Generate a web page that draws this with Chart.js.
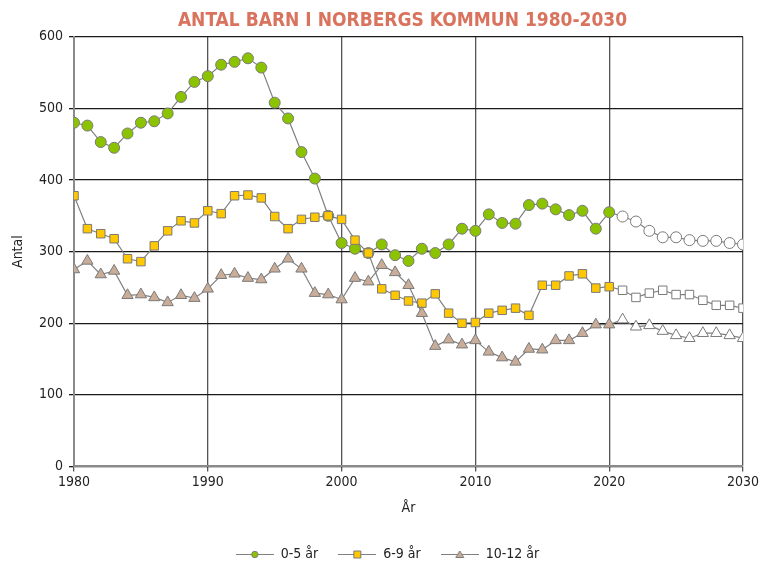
<!DOCTYPE html>
<html>
<head>
<meta charset="utf-8">
<script src="https://cdn.jsdelivr.net/npm/chart.js@4.4.0/dist/chart.umd.min.js"></script>
<style>
  html, body { margin: 0; padding: 0; background: #fff; }
  #wrap { width: 763px; height: 563px; }
</style>
</head>
<body>
<div id="wrap"><canvas id="myChart" width="763" height="563"></canvas></div>
<script>
'use strict';

let years = [1980, 1981, 1982, 1983, 1984, 1985, 1986, 1987, 1988, 1989,
  1990, 1991, 1992, 1993, 1994, 1995, 1996, 1997, 1998, 1999,
  2000, 2001, 2002, 2003, 2004, 2005, 2006, 2007, 2008, 2009,
  2010, 2011, 2012, 2013, 2014, 2015, 2016, 2017, 2018, 2019,
  2020, 2021, 2022, 2023, 2024, 2025, 2026, 2027, 2028, 2029, 2030];

let age0to5 = [480, 476, 453, 445, 465, 480, 482, 493, 516, 537,
  545, 561, 565, 570, 557, 508, 486, 439, 402, 350,
  312, 304, 298, 310, 295, 287, 304, 298, 310, 332,
  329, 352, 340, 339, 365, 367, 359, 351, 357, 332,
  355, 349, 342, 329, 320, 320, 316, 315, 315, 312, 310];

let age6to9 = [378, 332, 325, 318, 290, 286, 308, 329, 343, 340,
  357, 353, 378, 379, 375, 349, 332, 345, 348, 350,
  345, 316, 298, 248, 239, 231, 228, 241, 214, 200,
  201, 214, 218, 221, 211, 253, 253, 266, 269, 249,
  251, 246, 236, 242, 246, 240, 240, 232, 225, 225, 221];

let age10to12 = [275, 287, 268, 273, 239, 240, 236, 229, 239, 235,
  248, 267, 269, 263, 261, 276, 290, 276, 242, 240,
  233, 263, 258, 281, 271, 253, 214, 168, 177, 170,
  176, 160, 152, 146, 164, 163, 176, 176, 186, 198,
  198, 205, 195, 197, 189, 183, 179, 186, 186, 183, 179];

let seriesNames = ['0-5 år', '6-9 år', '10-12 år'];
let lastActualYear = 2020;
let yTicks = [0, 100, 200, 300, 400, 500, 600];
let xTicks = [1980, 1990, 2000, 2010, 2020, 2030];

let fontFamily = '"Liberation Sans Narrow", "DejaVu Sans Condensed", "Liberation Sans", sans-serif';
let lineColor = '#808080';
let markerBorder = '#7a7a7a';

function points(values) {
  let out = [];
  for (let i = 0; i < years.length; i++) {
    out.push({ x: years[i], y: values[i] });
  }
  return out;
}

function fills(color) {
  return years.map(function (y) { return y > lastActualYear ? '#ffffff' : color; });
}

// small legend icon: line with marker in the middle
function legendIcon(style, fill) {
  let c = document.createElement('canvas');
  c.width = 38;
  c.height = 12;
  let g = c.getContext('2d');
  g.strokeStyle = lineColor;
  g.lineWidth = 1;
  g.beginPath();
  g.moveTo(0, 6.5);
  g.lineTo(38, 6.5);
  g.stroke();
  g.fillStyle = fill;
  g.strokeStyle = markerBorder;
  g.beginPath();
  if (style === 'circle') {
    g.arc(19, 6.5, 3.2, 0, Math.PI * 2);
  } else if (style === 'rect') {
    g.rect(15.5, 3, 7, 7);
  } else {
    g.moveTo(19, 3);
    g.lineTo(23, 9.5);
    g.lineTo(15, 9.5);
    g.closePath();
  }
  g.fill();
  g.stroke();
  return c;
}

let colors = ['#8cc300', '#ffc800', '#c9ad99'];
let styles = ['circle', 'rect', 'triangle'];
let icons = [];
for (let i = 0; i < 3; i++) {
  icons.push(legendIcon(styles[i], colors[i]));
}

// nudge title and legend to where the original has them
let nudge = {
  id: 'nudge',
  afterLayout: function (chart) {
    let t = chart.titleBlock;
    if (t) { t.left += 31; t.right += 31; t.top += 1; t.bottom += 1; }
    let l = chart.legend;
    if (l) { l.left += 16; l.right += 16; l.top += 10; l.bottom += 10; }
  }
};

let ctx = document.getElementById('myChart').getContext('2d');

new Chart(ctx, {
  type: 'line',
  data: {
    datasets: [
      {
        label: seriesNames[0],
        data: points(age0to5),
        order: 3,
        borderColor: lineColor,
        borderWidth: 1.2,
        pointStyle: 'circle',
        pointRadius: 5.5,
        pointBackgroundColor: fills(colors[0]),
        pointBorderColor: markerBorder,
        pointBorderWidth: 1
      },
      {
        label: seriesNames[1],
        data: points(age6to9),
        order: 2,
        borderColor: lineColor,
        borderWidth: 1.2,
        pointStyle: 'rect',
        pointRadius: 6,
        pointBackgroundColor: fills(colors[1]),
        pointBorderColor: markerBorder,
        pointBorderWidth: 1
      },
      {
        label: seriesNames[2],
        data: points(age10to12),
        order: 1,
        borderColor: lineColor,
        borderWidth: 1.2,
        pointStyle: 'triangle',
        pointRadius: 6.5,
        pointBackgroundColor: fills(colors[2]),
        pointBorderColor: markerBorder,
        pointBorderWidth: 1
      }
    ]
  },
  plugins: [nudge],
  options: {
    responsive: false,
    animation: false,
    layout: { padding: { left: 0, right: 20, top: 0, bottom: 2 } },
    scales: {
      x: {
        type: 'linear',
        min: 1980,
        max: 2030,
        afterBuildTicks: function (axis) {
          axis.ticks = xTicks.map(function (v) { return { value: v }; });
        },
        ticks: {
          color: '#222',
          font: { family: fontFamily, size: 14 },
          padding: 3,
          maxRotation: 0,
          callback: function (v) { return String(v); }
        },
        grid: { color: '#555', lineWidth: 1.3, tickLength: 5 },
        border: { color: '#8a8a8a', width: 2 },
        title: {
          display: true,
          text: 'År',
          color: '#222',
          font: { family: fontFamily, size: 14 },
          padding: { top: 6, bottom: 0 }
        }
      },
      y: {
        min: 0,
        max: 600,
        afterBuildTicks: function (axis) {
          axis.ticks = yTicks.map(function (v) { return { value: v }; });
        },
        afterFit: function (axis) {
          axis.width = 74;
        },
        ticks: {
          color: '#222',
          font: { family: fontFamily, size: 14 },
          padding: 6
        },
        grid: { color: '#1a1a1a', lineWidth: 1.3, tickLength: 5 },
        border: { color: '#8a8a8a', width: 2 },
        title: {
          display: true,
          text: 'Antal',
          color: '#222',
          font: { family: fontFamily, size: 14 },
          padding: { top: 10, bottom: 4 }
        }
      }
    },
    plugins: {
      title: {
        display: true,
        text: 'ANTAL BARN I NORBERGS KOMMUN 1980-2030',
        color: '#d9735d',
        font: { family: fontFamily, size: 19, weight: 'bold' },
        padding: { top: 9, bottom: 5 }
      },
      legend: {
        position: 'bottom',
        labels: {
          usePointStyle: true,
          pointStyleWidth: 38,
          color: '#222',
          font: { family: fontFamily, size: 14 },
          padding: 20,
          generateLabels: function (chart) {
            let items = Chart.defaults.plugins.legend.labels.generateLabels(chart);
            items.sort(function (a, b) { return a.datasetIndex - b.datasetIndex; });
            items.forEach(function (item) {
              item.pointStyle = icons[item.datasetIndex];
            });
            return items;
          }
        }
      },
      tooltip: { enabled: false }
    }
  }
});
</script>
</body>
</html>
